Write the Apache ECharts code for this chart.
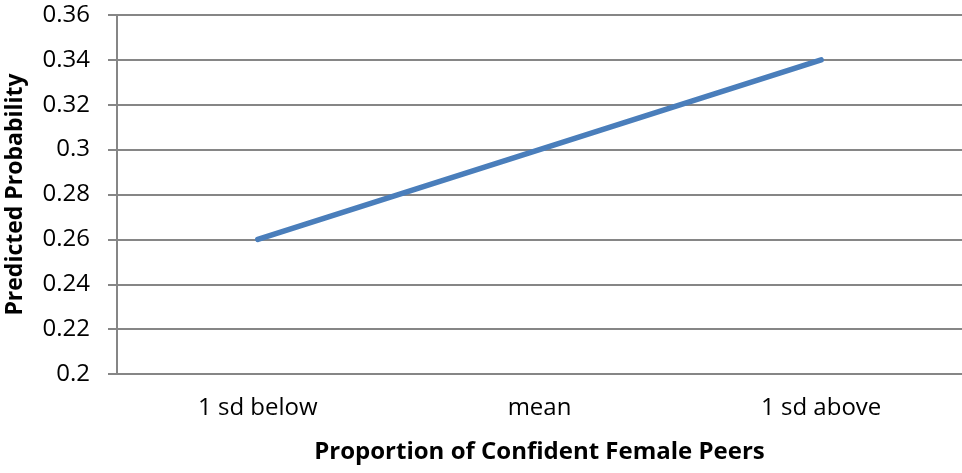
<!DOCTYPE html>
<html><head><meta charset="utf-8">
<script src="https://cdn.jsdelivr.net/npm/echarts@6/dist/echarts.min.js"></script>
<style>html,body{margin:0;padding:0;background:#fff}#c{width:962px;height:473px}</style>
</head><body><div id="c"></div>
<script>
const categories = ['1 sd below', 'mean', '1 sd above'];
const predicted = [0.26, 0.30, 0.34];
const yMin = 0.2, yMax = 0.36, yStep = 0.02;

const chart = echarts.init(document.getElementById('c'));
const font = '"Open Sans", "Liberation Sans", sans-serif';
chart.setOption({
  animation: false,
  grid: { left: 117, right: 0, top: 15, bottom: 99, containLabel: false, outerBoundsMode: 'none' },
  xAxis: {
    type: 'category', data: categories, boundaryGap: true,
    name: 'Proportion of Confident Female Peers', nameLocation: 'middle', nameGap: 66,
    nameTextStyle: { fontFamily: font, fontSize: 24, fontWeight: 'bold', color: '#000' },
    axisLine: { lineStyle: { color: '#868686', width: 2 } },
    axisTick: { show: false },
    axisLabel: { fontFamily: font, fontSize: 24, color: '#000', margin: 22 }
  },
  yAxis: {
    type: 'value', min: yMin, max: yMax, interval: yStep,
    name: 'Predicted Probability', nameLocation: 'middle', nameGap: 90,
    nameTextStyle: { fontFamily: font, fontSize: 23, fontWeight: 'bold', color: '#000' },
    axisLine: { show: true, lineStyle: { color: '#868686', width: 2 } },
    axisTick: { show: true, length: 9, lineStyle: { color: '#868686', width: 2 } },
    axisLabel: { fontFamily: font, fontSize: 24, color: '#000', margin: 27,
      formatter: v => String(parseFloat(v.toFixed(2))) },
    splitLine: { lineStyle: { color: '#868686', width: 2 } }
  },
  series: [{
    type: 'line', data: predicted, symbol: 'none',
    lineStyle: { color: '#4a7ebb', width: 5.5, cap: 'round' }
  }]
});
</script></body></html>
